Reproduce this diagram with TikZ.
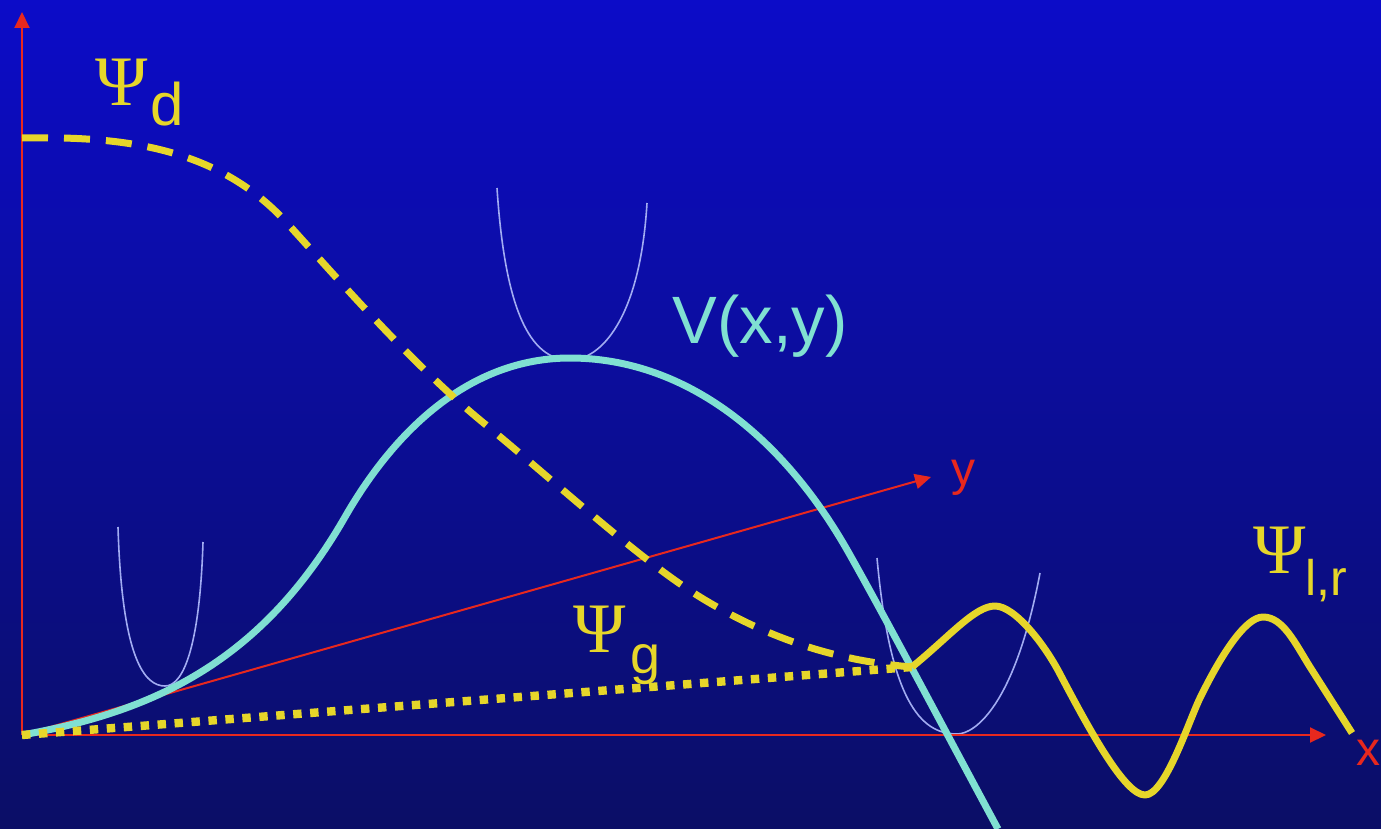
\documentclass[tikz,border=0pt]{standalone}
\usepackage{fontspec}
\setmainfont{Liberation Sans}
\newfontfamily\tnserif{Liberation Serif}
\usepackage{tikz}
\usetikzlibrary{arrows.meta,positioning}
\definecolor{tnskytop}  {HTML}{0C0CC8}
\definecolor{tnskymid}  {HTML}{0808B0}
\definecolor{tnskylow}  {HTML}{0B0E66}
\definecolor{tnred}     {HTML}{E8281E}
\definecolor{tngold}    {HTML}{E6D62A}
\definecolor{tnteal}    {HTML}{80E0D2}
\definecolor{tnwell}    {HTML}{A2ACF2}
\tikzset{
  tnaxis/.style={draw=tnred, line width=1pt, -{Triangle[length=8pt,width=7.5pt]}},
  tnwellcurve/.style={draw=tnwell, line width=0.8pt},
  tnpot/.style={draw=tnteal, line width=3.5pt},
  tnpsid/.style={draw=tngold, line width=3.5pt, dash pattern=on 13pt off 8pt},
  tnpsig/.style={draw=tngold, line width=4.2pt, dash pattern=on 4.2pt off 4.3pt},
  tnwave/.style={draw=tngold, line width=3.5pt, line join=round},
  tnpsi/.style={text=tngold, inner sep=0pt, anchor=base west,
                font=\tnserif\fontsize{35.5}{36}\selectfont},
  tnsub/.style={text=tngold, inner sep=0pt, anchor=base west},
  tnaxislabel/.style={text=tnred, inner sep=0pt, anchor=base west,
                      font=\fontsize{24}{24}\selectfont},
}

\begin{document}
\begin{tikzpicture}[x=0.5pt,y=-0.5pt]
  \shade[top color=tnskytop, middle color=tnskymid, bottom color=tnskylow]
    (0,0) rectangle (1381,829);
  \useasboundingbox (0,0) rectangle (1381,829);

  \coordinate (o)  at (22,735);
  \coordinate (yv) at (22,12);
  \coordinate (xh) at (1326,735);
  \coordinate (yd) at (931,477);
  \coordinate (j)  at (912,667);

  \draw[tnwellcurve] (118,527) .. controls (122,660) and (145,686) .. (165,686)
                                .. controls (185,686) and (200,640) .. (203,542);
  \draw[tnwellcurve] (497,188) .. controls (505,310) and (530,360) .. (570,360)
                                .. controls (600,360) and (640,320) .. (647,203);
  \draw[tnwellcurve] (877,558) .. controls (890,700) and (920,734) .. (957,734)
                                .. controls (975,734) and (1015,705) .. (1040,573);

  \draw[tnaxis] (o) -- (yv);
  \draw[tnaxis] (o) -- (xh);
  \draw[tnaxis] (o) -- (yd);

  \draw[tnpot] (o) .. controls (150,712) and (260,665) .. (345,517)
                   .. controls (395,430) and (470,358) .. (570,358)
                   .. controls (680,358) and (780,430) .. (850,555)
                   .. controls (890,626) and (950,740) .. (998,829);

  \draw[tnpsig] (o) -- (j);
  \draw[tnpsid] (22,138) .. controls (120,136) and (217,146) .. (287,223)
                         .. controls (337,278) and (410,362) .. (480,420)
                         .. controls (560,486) and (640,560) .. (700,597)
                         .. controls (778,645) and (850,662) .. (j);
  \draw[tnwave] (j) .. controls (950,636) and (975,606) .. (995,606)
                    .. controls (1015,606) and (1045,645) .. (1060,674)
                    .. controls (1090,731) and (1125,795) .. (1145,795)
                    .. controls (1165,795) and (1188,723) .. (1200,698)
                    .. controls (1220,657) and (1245,617) .. (1263,617)
                    .. controls (1283,617) and (1295,643) .. (1310,667)
                    -- (1352,733);

  \node[tnpsi] (psid) at (95,105) {Ψ};
  \node[tnsub, font=\fontsize{30}{30}\selectfont] (psidsub) at (150,126) {d};
  \node[tnpsi] (psig) at (573,652) {Ψ};
  \node[tnsub, font=\fontsize{27}{27}\selectfont] (psigsub) at (630,673) {g};
  \node[tnpsi] (psilr) at (1253,573) {Ψ};
  \node[tnsub, font=\fontsize{25}{25}\selectfont] (psilrsub) at (1305,595) {l,r};

  \node[text=tnteal, inner sep=0pt, anchor=base, font=\fontsize{33.5}{34}\selectfont]
    (vlabel) at (760,343) {V(x,y)};
  \node[tnaxislabel] (ylabel) at (951,485) {y};
  \node[tnaxislabel] (xlabel) at (1356,765) {x};
\end{tikzpicture}
\end{document}
